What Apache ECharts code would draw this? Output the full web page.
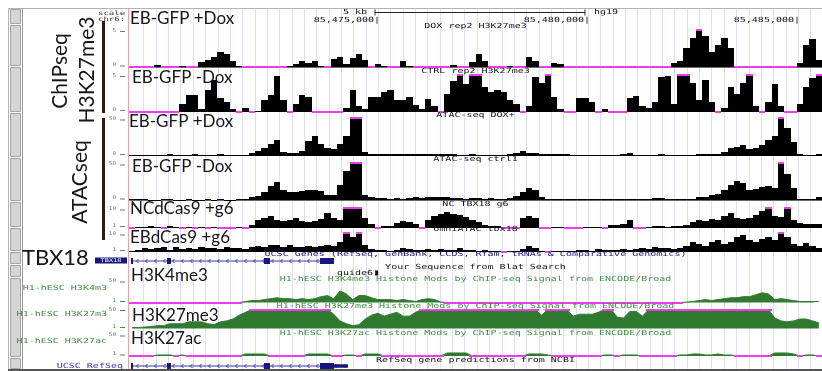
<!DOCTYPE html>
<html>
<head>
<meta charset="utf-8">
<title>TBX18 locus, chr6</title>
<script src="https://cdn.jsdelivr.net/npm/echarts@6.0.0/dist/echarts.min.js"></script>
<style>
  html, body { margin: 0; padding: 0; background: #ffffff; }
  #chart { width: 822px; height: 371px; }
</style>
</head>
<body>
<div id="chart"></div>
<script>
// chr6 window (hg19), signal binned at 150 bp
const WINDOW_START = 85469070;
const BIN_SIZE = 150;
const BIN_COUNT = 110;
const WINDOW_END = WINDOW_START + BIN_SIZE * BIN_COUNT;

// ChIP-seq H3K27me3, scale 0-5
const doxH3K27me3 = [
  0,0,0,0,0.3,0,0,0,0.1,0,
  0,0.7,0.9,1.4,2.0,1.7,0.8,0.1,0,0,
  0,0,0,0,0,0.1,0.4,0.8,0.5,0.8,
  0.1,0,1.1,1.3,0.4,1.2,1.8,0.9,0,0.4,
  0.1,0,0,0.8,0.1,0,0,0,0,0,
  0,0.3,0,0,0.7,1.8,0.8,0,0,0,
  0.2,0,0,1.4,0.8,0,0,0.6,0.4,0,
  0,0,0,0,0,0,0,0,0,0,
  0,0,0,0,0,0,0.5,0.8,2.5,3.9,
  5.6,4.2,2.0,2.9,3.9,2.6,0,0,0,0,
  0,0,0,0,0,0,0.6,2.9,3.7,1.0
];
const ctrlH3K27me3 = [
  0,0,0,0,0,0,0,0,1.0,2.2,
  2.2,0.4,2.9,4.2,1.8,1.3,0.3,0,0.5,0,
  0.1,1.6,2.2,4.8,1.6,0,1.0,2.2,2.0,0,
  0,0,0,0,0.5,2.9,0.8,0.3,2.0,2.0,
  2.6,2.9,1.6,1.6,2.0,0.9,0.3,1.7,0.7,0,
  2.4,4.1,5.6,3.7,5.6,5.6,3.3,2.6,2.9,2.6,
  1.6,1.0,0,0.7,4.6,3.9,5.6,2.0,0.3,0,
  0,1.8,1.8,1.3,0,0.4,0,0,0,1.8,
  2.1,0.7,0.5,1.3,4.6,4.8,1.0,5.6,5.6,3.9,
  1.6,4.2,1.3,0,0.5,3.3,2.4,3.9,5.6,0.8,
  0,1.3,3.7,0.7,0,0,1.0,3.3,4.5,5.6
];
// ATAC-seq, scale 0-50
const atacDox = [
  0.5,0.5,1,0.5,0.5,0.5,2,0.5,0.5,0.5,
  1.5,0.5,0.5,1,1.5,0.5,0.5,1,0.5,3,
  6.6,10.5,15.8,21,5.3,3.9,3.9,6.6,19.7,26.3,
  15.8,10.5,9.2,15.8,26.3,55,55,5.3,2.6,2,
  1.5,2,2.5,2,2.5,2,2,2.5,2,1.5,
  1.5,1.5,1,1,1.5,1,1,1,1,1,
  1.5,4,6.6,3.9,3.9,2.6,1.5,2,1.5,2.5,
  1,1,1,1,1,1,1,1,2,3.9,
  1,0.5,1,1,1.5,1,1,1,1,1,
  2.6,2.6,2,1.5,5.3,10.5,11.8,14.5,9.2,10.5,
  14.5,21,26,55,37,18,2.6,1,1,1.5
];
const atacCtrl = [
  1.5,1,1,0.5,0.5,1,1,0.5,0.5,1,
  0.5,0.5,1,0.5,1,0.5,0.5,1,1.5,4,
  5.4,10.8,19,24,13.5,10.8,10.8,12,13.5,13.5,
  12,6.8,6.8,20,39,55,55,6.8,4,2.7,
  2.7,2,2.7,2,2.7,3.5,2.7,4,4,4,
  4,2.7,2.7,2,2.7,2.7,2,2.7,2,2,
  2.7,5.4,10.8,16,13.5,4,1.5,1.5,2,1,
  1,1.5,1.5,1,1,1.5,1,1.5,1,1,
  1,1,1.5,2.7,2.7,1.5,1,1,2,2,
  4,4,6.8,8,13.5,20,26,23,13.5,15,
  17.5,19,16,55,35,16,2,1,1,4
];
// ATAC-seq after dCas9 + guide 6, scale 0-10
const ncTbx18G6 = [
  0,0.3,0.5,1,0.5,0,1,0.5,0,0.3,
  0,0.5,0,0.3,0,0,0,0.5,0,1.5,
  4,5,6,4,3.5,4,5,3.5,3,3.5,
  4.5,7.5,5,4,11,11,11,5,2,0,
  1,1,2.5,3.5,3,2,0,4,6,7,
  8,7,6.5,5.5,4,3,1.5,1,1,0,
  0,0,5,6,5,0,0,0.5,0.5,0,
  0,0,0.5,0.5,0.3,0,1.5,1.5,2,4,
  0,0,0.5,1,1,0.5,1,0.8,1.5,3,
  4,3.5,4.5,4,6,7.5,5,4.5,5,6.5,
  8.5,11,6,5.5,11,4,2.5,2,2,2
];
const omniTbx18 = [
  0.5,1,2,1.5,2,2.5,1,2.5,1.5,2,
  1.5,2.5,2,2,1.5,2.5,2,2,1.5,2.5,
  3,2.5,3.5,3.5,2.5,3.5,2.5,2.5,3,2.5,
  3,3.5,3,5,11,8,11,3.5,1.5,1,
  1,0.5,1,2,1.5,1,1,1.5,1,1.5,
  1,1,2,1,1,0.5,1,0.5,0.5,0,
  0.5,0.5,1.5,3,2,0.5,0,0.5,0.5,0.5,
  0.5,1,1,0.5,1.5,1,1,1,1.5,1,
  1.5,2,1.5,2.5,2,2,1.5,2,3,5,
  4,3,5,6,4,5,8,9,6,5,
  7,8,6,11,8,4,3,4.5,3,2
];
// ENCODE H1-hESC histone marks, scale 1-50
const h1H3K4me3 = [
  0,0,0,0,0,0,0,0,0,0,
  0,0,0,0,0,0,0,0,2.3,4.5,
  4.5,6.8,9,11,9,9,6.8,9,6.8,9,
  13.6,16,9,27,20,6.8,16,16,11,6.8,
  6.8,6.8,4.5,6.8,4.5,2.3,6.8,9,6.8,1,
  0,0,0,0,0,0,0,0,0,0,
  0,0,0,0,0,0,0,0,0,0,
  0,0,0,0,0,0,0,0,0,0,
  0,0,0,0,0,0,0,0,1,2.3,
  4.5,6.8,4.5,6.8,9,11,11,13.6,13.6,18,
  22.7,20,6.8,9,6.8,4.5,2.3,2.3,2.3,2.3
];
const h1H3K27me3 = [
  2.5,2.5,3.8,5,7.5,7.5,12.5,12.5,12.5,17.5,
  17.5,17.5,12.5,10,17.5,20,25,35,42.5,60,
  60,60,60,60,60,60,60,60,60,60,
  60,60,37.5,20,12.5,7.5,10,25,35,40,
  32.5,37.5,42.5,32.5,32.5,42.5,60,60,60,60,
  60,60,60,60,60,60,60,60,60,60,
  60,60,60,60,60,35,60,60,60,60,
  32.5,37.5,37.5,37.5,42.5,60,60,30,27.5,45,
  45,32.5,60,60,60,60,60,60,60,60,
  60,60,60,60,60,60,60,60,60,60,
  60,60,27.5,20,17.5,20,25,25,20,15
];
const h1H3K27ac = [
  0,0,0,0,2.4,2.4,2.4,0,2.4,0,
  0,0,0,0,0,0,0,0,4.8,4.8,
  4.8,4.8,0,0,0,0,0,0,4.8,4.8,
  4.8,4.8,0,0,2.4,2.4,0,4.8,4.8,4.8,
  0,0,0,0,0,0,0,0,0,0,
  7.2,7.2,7.2,7.2,0,0,0,0,0,0,
  0,0,0,4.8,4.8,4.8,2.4,0,0,0,
  0,0,0,0,0,2.4,2.4,0,2.4,2.4,
  2.4,0,0,0,0,0,0,2.4,2.4,4.8,
  4.8,2.4,2.4,4.8,2.4,2.4,0,0,0,0,
  0,0,7.2,7.2,7.2,4.8,0,2.4,2.4,0
];

// ruler
const rulerTicks = [85475000, 85480000, 85485000];
const scaleBar = [85474927, 85479927];
// gene models (minus strand)
const ucscGeneSpan = [85469118, 85473951];
const ucscGeneBlocks = [
  [85469118, 85469165, 'cds'], [85469975, 85470070, 'cds'],
  [85472284, 85472427, 'cds'], [85473618, 85473951, 'cds']
];
const refseqSpan = [85469118, 85474284];
const refseqBlocks = [
  [85469118, 85469165, 'cds'], [85469975, 85470070, 'cds'],
  [85472284, 85472427, 'cds'], [85473618, 85473951, 'cds'],
  [85473951, 85474284, 'utr']
];
// BLAT hit
const blatHits = [[85474930, 85474995]];
const blatNames = ['guide6'];

// ---- styling ----
const PLOT_LEFT = 129, PLOT_WIDTH = 693;
const CENTER_X = PLOT_LEFT + PLOT_WIDTH / 2;
const MAGENTA = '#ee3cee';
const GREEN = '#2f7a2f';
const GREEN_TEXT = '#3f8f3f';
const NAVY = '#17177c';
const GENE_LINE = '#3a3aa8';
const GUIDE = '#dcdff7';
const MONO = '"DejaVu Sans Mono", monospace';
const SANS = 'Lato, "Open Sans", sans-serif';
const INK = '#161616';

const grids = [], xAxes = [], yAxes = [], series = [];
function addGrid(top, height, yMax, baseline) {
  const idx = grids.length;
  grids.push({ left: PLOT_LEFT, width: PLOT_WIDTH, top, height });
  xAxes.push({
    type: 'value', gridIndex: idx, min: WINDOW_START, max: WINDOW_END,
    show: !!baseline,
    axisLine: { show: !!baseline, lineStyle: { color: baseline || '#777', width: 1 } },
    axisTick: { show: false }, axisLabel: { show: false }, splitLine: { show: false }
  });
  yAxes.push({ type: 'value', gridIndex: idx, min: 0, max: yMax, show: false });
  return idx;
}
const binned = arr => arr.map((v, i) => [WINDOW_START + i * BIN_SIZE, WINDOW_START + (i + 1) * BIN_SIZE, v]);

// light guide lines every 294 bp
const GUIDE_FIRST = 85469414, GUIDE_STEP = 294;
const guideLines = [];
for (let p = GUIDE_FIRST; p < WINDOW_END; p += GUIDE_STEP) guideLines.push([p]);
const bg = addGrid(8, 362, 1);
series.push({
  type: 'custom', xAxisIndex: bg, yAxisIndex: bg, z: 0, silent: true,
  data: guideLines,
  renderItem(params, api) {
    const x = Math.round(api.coord([api.value(0), 0])[0]) + 0.5;
    const cs = params.coordSys;
    return { type: 'line', shape: { x1: x, y1: cs.y, x2: x, y2: cs.y + cs.height },
             style: { stroke: GUIDE, lineWidth: 1 } };
  }
});

// ruler: base labels and 5 kb bar
const txt = (text, x, y, o) => ({
  type: 'text', x, y, scaleX: (o && o.scale) || 1.43,
  style: { text, font: ((o && o.size) || 7) + 'px ' + MONO, fill: (o && o.color) || '#111',
           align: (o && o.align) || 'center', textAlign: (o && o.align) || 'center',
           verticalAlign: 'middle', textVerticalAlign: 'middle' }
});
const ruler = addGrid(9, 16, 1);
series.push({
  type: 'custom', xAxisIndex: ruler, yAxisIndex: ruler, z: 5, silent: true,
  data: rulerTicks.map(v => [v]),
  renderItem(params, api) {
    const v = api.value(0);
    const x = api.coord([v, 0])[0];
    return txt(v.toLocaleString('en-US') + '|', x + 2, 20.5, { align: 'right' });
  }
});
series.push({
  type: 'custom', xAxisIndex: ruler, yAxisIndex: ruler, z: 5, silent: true,
  data: [scaleBar],
  renderItem(params, api) {
    const a = api.coord([api.value(0), 0])[0], b = api.coord([api.value(1), 0])[0];
    const y = 12.5;
    return { type: 'group', children: [
      { type: 'line', shape: { x1: a, y1: y, x2: b, y2: y }, style: { stroke: '#222', lineWidth: 1 } },
      { type: 'line', shape: { x1: a, y1: y - 3, x2: a, y2: y + 3 }, style: { stroke: '#222', lineWidth: 1 } },
      { type: 'line', shape: { x1: b, y1: y - 3, x2: b, y2: y + 3 }, style: { stroke: '#222', lineWidth: 1 } },
      txt('5 kb', a - 8, y, { align: 'right' }),
      txt('hg19', b + 9, y, { align: 'left' })
    ] };
  }
});

// histogram tracks, bins snapped to whole pixels so neighbours meet without seams
function histogram(max, zeroPink, fill) {
  return function (params, api) {
    const s = api.value(0), e = api.value(1), v = api.value(2);
    const p0 = api.coord([s, Math.min(v, max)]);
    const p1 = api.coord([e, 0]);
    const x0 = Math.round(p0[0]), x1 = Math.round(p1[0]);
    const yTop = Math.round(p0[1]), yBase = Math.round(p1[1]);
    const w = x1 - x0;
    const kids = [];
    if (fill && v > 0) kids.push({ type: 'rect', shape: { x: x0, y: yTop, width: w, height: Math.max(yBase - yTop, 1) }, style: { fill } });
    if (v > max) kids.push({ type: 'rect', shape: { x: x0, y: yTop - 1, width: w, height: 2 }, style: { fill: MAGENTA } });
    if (v === 0 && zeroPink) kids.push({ type: 'rect', shape: { x: x0, y: yBase - 1, width: w, height: 2 }, style: { fill: MAGENTA } });
    return { type: 'group', children: kids };
  };
}

const blackTracks = [
  { data: doxH3K27me3, max: 5, top: 29.5, height: 37.5, title: 'DOX rep2 H3K27me3', titleY: 26, zeroPink: true, scale: ['5', '0'] },
  { data: ctrlH3K27me3, max: 5, top: 74.5, height: 37, title: 'CTRL rep2 H3K27me3', titleY: 71, zeroPink: true, scale: ['5', '0'] },
  { data: atacDox, max: 50, top: 118, height: 37.5, title: 'ATAC-seq DOX+', titleY: 115.5, zeroPink: false, scale: ['50', '0'] },
  { data: atacCtrl, max: 50, top: 163, height: 37, title: 'ATAC-seq ctrl1', titleY: 159.5, zeroPink: false, scale: ['50', '0'] },
  { data: ncTbx18G6, max: 10, top: 208, height: 19.5, title: 'NC TBX18 g6', titleY: 204.5, zeroPink: true, scale: ['10', '1'] },
  { data: omniTbx18, max: 10, top: 233, height: 18.5, title: 'omniATAC tbx18', titleY: 229.5, zeroPink: true, scale: ['10', '1'] }
];
blackTracks.forEach(t => {
  const g = addGrid(t.top, t.height, t.max, '#6a6a6a');
  series.push({
    type: 'custom', xAxisIndex: g, yAxisIndex: g, z: 3, silent: true,
    data: binned(t.data), encode: { x: [0, 1], y: 2 },
    renderItem: histogram(t.max, t.zeroPink, '#000')
  });
});

const greenTracks = [
  { data: h1H3K4me3, max: 50, top: 281, height: 21.5, title: 'H1-hESC H3K4me3 Histone Mods by ChIP-seq Signal from ENCODE/Broad', titleY: 279, side: 'H1-hESC H3K4m3', sideY: 288 },
  { data: h1H3K27me3, max: 50, top: 309.5, height: 19, title: 'H1-hESC H3K27me3 Histone Mods by ChIP-seq Signal from ENCODE/Broad', titleY: 306, side: 'H1-hESC H3K27m3', sideY: 314 },
  { data: h1H3K27ac, max: 50, top: 335, height: 21, title: 'H1-hESC H3K27ac Histone Mods by ChIP-seq Signal from ENCODE/Broad', titleY: 333, side: 'H1-hESC H3K27ac', sideY: 341 }
];
greenTracks.forEach(t => {
  const g = addGrid(t.top, t.height, t.max);
  series.push({
    type: 'line', xAxisIndex: g, yAxisIndex: g, z: 3, silent: true, symbol: 'none',
    data: t.data.map((v, i) => [WINDOW_START + (i + 0.5) * BIN_SIZE, Math.min(v, t.max)]),
    lineStyle: { color: GREEN, width: 1 }, areaStyle: { color: GREEN, opacity: 1 }
  });
  series.push({
    type: 'custom', xAxisIndex: g, yAxisIndex: g, z: 4, silent: true,
    data: binned(t.data), encode: { x: [0, 1], y: 2 },
    renderItem: histogram(t.max, true, null)
  });
});

// gene models
function geneTrack(top, span, blocks) {
  const g = addGrid(top, 8, 1);
  const kind = { cds: 1, utr: 2 };
  const data = [[span[0], span[1], 0]].concat(blocks.map(b => [b[0], b[1], kind[b[2]]]));
  series.push({
    type: 'custom', xAxisIndex: g, yAxisIndex: g, z: 5, silent: true,
    data, encode: { x: [0, 1] },
    renderItem(params, api) {
      const a = api.coord([api.value(0), 0.5]), b = api.coord([api.value(1), 0.5]);
      const y = a[1], k = api.value(2);
      if (k === 0) {
        const kids = [{ type: 'line', shape: { x1: a[0], y1: y, x2: b[0], y2: y }, style: { stroke: GENE_LINE, lineWidth: 1 } }];
        for (let x = a[0] + 6; x < b[0] - 3; x += 9) {
          kids.push({ type: 'polyline', shape: { points: [[x + 1.5, y - 2], [x - 0.5, y], [x + 1.5, y + 2]] },
                      style: { stroke: GENE_LINE, lineWidth: 1, fill: null } });
        }
        return { type: 'group', children: kids };
      }
      const h = k === 1 ? 6 : 3.5;
      return { type: 'rect', shape: { x: a[0], y: y - h / 2, width: Math.max(b[0] - a[0], 2), height: h }, style: { fill: NAVY } };
    }
  });
}
geneTrack(257, ucscGeneSpan, ucscGeneBlocks);
geneTrack(362, refseqSpan, refseqBlocks);

// BLAT hit
const blat = addGrid(270, 6, 1);
series.push({
  type: 'custom', xAxisIndex: blat, yAxisIndex: blat, z: 5, silent: true,
  data: blatHits, encode: { x: [0, 1] },
  renderItem(params, api) {
    const a = api.coord([api.value(0), 0.5]), b = api.coord([api.value(1), 0.5]);
    return { type: 'group', children: [
      { type: 'rect', shape: { x: a[0], y: a[1] - 2.5, width: Math.max(b[0] - a[0], 3), height: 5 }, style: { fill: '#111' } },
      txt(blatNames[params.dataIndex], a[0] - 2, a[1], { align: 'right' })
    ] };
  }
});

// ---- page furniture and annotations ----
const graphic = [];
// outer frame and side buttons
graphic.push({ type: 'rect', z: 1, shape: { x: 8.5, y: 8.5, width: 820, height: 361 }, style: { fill: null, stroke: '#b4b4b4', lineWidth: 1 } });
graphic.push({ type: 'line', z: 60, shape: { x1: 8, y1: 370, x2: 822, y2: 370 }, style: { stroke: '#555', lineWidth: 2 } });
[[9, 24], [25, 66], [67, 112], [113, 157], [158, 201], [202, 227], [228, 251], [252, 264], [265, 277], [278, 357], [358, 369]]
  .forEach(r => graphic.push({ type: 'rect', z: 1, shape: { x: 10.5, y: r[0] + 0.5, width: 10, height: r[1] - r[0] - 1 },
                              style: { fill: '#d5d5d5', stroke: '#a2a2a2', lineWidth: 1 } }));
graphic.push({ type: 'line', z: 1, shape: { x1: 22.5, y1: 8, x2: 22.5, y2: 370 }, style: { stroke: '#9a9a9a', lineWidth: 1 } });
graphic.push({ type: 'line', z: 1, shape: { x1: 128.5, y1: 8, x2: 128.5, y2: 370 }, style: { stroke: '#f2a2a6', lineWidth: 1 } });

// track titles
const center = (text, y, color) => Object.assign(txt(text, CENTER_X, y, { color }), { z: 40 });
blackTracks.forEach(t => graphic.push(center(t.title, t.titleY)));
greenTracks.forEach(t => graphic.push(center(t.title, t.titleY, GREEN_TEXT)));
graphic.push(center('UCSC Genes (RefSeq, GenBank, CCDS, Rfam, tRNAs & Comparative Genomics)', 254.5, NAVY));
graphic.push(center('Your Sequence from Blat Search', 267.5));
graphic.push(center('RefSeq gene predictions from NCBI', 360));

// left column small labels
graphic.push(Object.assign(txt('scale', 98, 13.5, { align: 'left', size: 6, scale: 1.5, color: '#333' }), { z: 40 }));
graphic.push(Object.assign(txt('chr6:', 98, 19.5, { align: 'left', size: 6, scale: 1.5, color: '#333' }), { z: 40 }));
const scaleMark = (label, y, color) => {
  graphic.push(Object.assign(txt(label, 116, y, { align: 'right', size: 5, scale: 1.2, color }), { z: 40 }));
  graphic.push({ type: 'line', z: 40, shape: { x1: 120, y1: y + 1, x2: 125, y2: y + 1 }, style: { stroke: color, lineWidth: 1 } });
};
blackTracks.forEach(t => { scaleMark(t.scale[0], t.top + 1, '#777'); scaleMark(t.scale[1], t.top + t.height - 2, '#777'); });
greenTracks.forEach(t => {
  scaleMark('50', t.top, GREEN_TEXT); scaleMark('1', t.top + t.height - 2, GREEN_TEXT);
  graphic.push(Object.assign(txt(t.side, 107, t.sideY, { align: 'right', color: GREEN_TEXT }), { z: 40 }));
});
graphic.push(Object.assign(txt('UCSC RefSeq', 123, 366, { align: 'right', color: '#3a3ab0' }), { z: 40 }));
graphic.push({ type: 'rect', z: 40, shape: { x: 95, y: 257.5, width: 32, height: 6 }, style: { fill: NAVY } });
graphic.push(Object.assign(txt('TBX18', 111, 260.5, { size: 5, scale: 1.4, color: '#ffffff' }), { z: 41 }));

// sample annotations
const big = (text, x, y, size, rot) => ({
  type: 'text', x, y, rotation: rot || 0, z: 50,
  style: { text, font: size + 'px ' + SANS, fill: INK,
           align: rot ? 'center' : 'left', textAlign: rot ? 'center' : 'left',
           verticalAlign: 'middle', textVerticalAlign: 'middle' }
});
graphic.push(big('EB-GFP +Dox', 130, 19, 17));
graphic.push(big('EB-GFP -Dox', 132, 78, 17));
graphic.push(big('EB-GFP +Dox', 129, 122, 17));
graphic.push(big('EB-GFP -Dox', 132, 167, 17));
graphic.push(big('NCdCas9 +g6', 130, 209, 17));
graphic.push(big('EBdCas9 +g6', 130, 238, 17));
graphic.push(big('H3K4me3', 131, 276, 17));
graphic.push(big('H3K27me3', 132, 316, 17));
graphic.push(big('H3K27ac', 131, 338.5, 17));
graphic.push(big('TBX18', 22, 258, 22));
graphic.push(big('ChIPseq', 60, 71, 21, Math.PI / 2));
graphic.push(big('H3K27me3', 87, 70, 21, Math.PI / 2));
graphic.push(big('ATACseq', 80, 182, 21, Math.PI / 2));
graphic.push({ type: 'rect', z: 50, shape: { x: 102, y: 21, width: 3, height: 92 }, style: { fill: '#2b1c15' } });
graphic.push({ type: 'rect', z: 50, shape: { x: 102, y: 118, width: 3, height: 122 }, style: { fill: '#2b1c15' } });

const chart = echarts.init(document.getElementById('chart'), null, { renderer: 'canvas' });
chart.setOption({
  animation: false,
  backgroundColor: '#ffffff',
  grid: grids,
  xAxis: xAxes,
  yAxis: yAxes,
  series,
  graphic
});
</script>
</body>
</html>
